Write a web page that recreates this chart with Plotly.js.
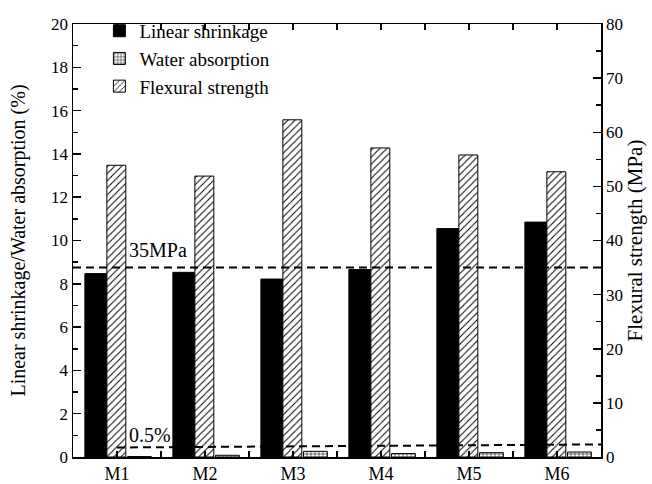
<!DOCTYPE html>
<html>
<head>
<meta charset="utf-8">
<script src="https://cdn.plot.ly/plotly-3.0.1.min.js"></script>
<style>html,body{margin:0;padding:0;background:#fff;}#chart{width:652px;height:484px;}</style>
</head>
<body>
<div id="chart"></div>
<script>
// ---- data ----
const categories = ["M1", "M2", "M3", "M4", "M5", "M6"];
const linearShrinkage = [8.47, 8.53, 8.22, 8.66, 10.55, 10.85];   // %
const waterAbsorption = [0.02, 0.08, 0.26, 0.16, 0.20, 0.23];    // %
const flexuralStrength = [53.9, 51.9, 62.3, 57.1, 55.8, 52.7];   // MPa
const yTicks = [0, 2, 4, 6, 8, 10, 12, 14, 16, 18, 20];
const y2Ticks = [0, 10, 20, 30, 40, 50, 60, 70, 80];
const strengthLimit = 35;   // MPa
const absorptionLimit = 0.5; // %

const xs = categories.map((c, i) => i);
const FONT = "'Liberation Serif', 'Times New Roman', Times, serif";

const traces = [
  {
    type: "bar", name: "Linear shrinkage", x: xs, y: linearShrinkage,
    xaxis: "x", yaxis: "y", offset: -0.365, width: 0.25,
    marker: { color: "#000", line: { color: "#000", width: 1 } }
  },
  {
    type: "bar", name: "Water absorption", x: xs, y: waterAbsorption,
    xaxis: "x", yaxis: "y", offset: 0.12, width: 0.27,
    marker: { color: "#fff", line: { color: "#000", width: 1 },
      pattern: { shape: "+", fgcolor: "#000", bgcolor: "#fff", size: 4, solidity: 0.25 } }
  },
  {
    type: "bar", name: "Flexural strength", x: xs, y: flexuralStrength,
    xaxis: "x", yaxis: "y2", offset: -0.115, width: 0.215,
    marker: { color: "#fff", line: { color: "#000", width: 1 },
      pattern: { shape: "/", fgcolor: "#000", bgcolor: "#fff", size: 5, solidity: 0.2 } }
  }
];

const axisCommon = {
  showline: true, linecolor: "#000", linewidth: 1.5,
  ticks: "inside", ticklen: 8, tickwidth: 1.5, tickcolor: "#000",
  showgrid: false, zeroline: false,
  tickfont: { family: FONT, size: 17, color: "#000" }
};

const layout = {
  width: 652, height: 484,
  margin: { l: 73, r: 51, t: 19, b: 27 },
  paper_bgcolor: "#fff", plot_bgcolor: "#fff",
  font: { family: FONT, color: "#000" },
  barmode: "overlay",
  showlegend: true,
  legend: {
    x: 0.05, y: 1.028, xanchor: "left", yanchor: "top",
    bgcolor: "rgba(0,0,0,0)", borderwidth: 0,
    font: { family: FONT, size: 19, color: "#000" },
    traceorder: "normal", tracegroupgap: 0
  },
  xaxis: Object.assign({}, axisCommon, {
    range: [-0.5, 5.5], tickmode: "array", tickvals: xs, ticktext: categories,
    mirror: "ticks", ticklen: 6,
    tickfont: { family: FONT, size: 18, color: "#000" },
    minor: { dtick: 0.5, tick0: 0.5, ticks: "inside", ticklen: 6, tickwidth: 1.5, tickcolor: "#000" }
  }),
  yaxis: Object.assign({}, axisCommon, {
    range: [0, 20], tickmode: "array", tickvals: yTicks,
    minor: { dtick: 1, ticks: "inside", ticklen: 5, tickwidth: 1.5, tickcolor: "#000" },
    title: { text: "Linear shrinkage/Water absorption (%)", font: { family: FONT, size: 20, color: "#000" }, standoff: 20 }
  }),
  yaxis2: Object.assign({}, axisCommon, {
    overlaying: "y", side: "right", anchor: "x",
    range: [0, 80], tickmode: "array", tickvals: y2Ticks,
    minor: { dtick: 5, ticks: "inside", ticklen: 5, tickwidth: 1.5, tickcolor: "#000" },
    title: { text: "Flexural strength (MPa)", font: { family: FONT, size: 21, color: "#000" }, standoff: 4 }
  }),
  shapes: [
    { type: "line", layer: "above", xref: "paper", x0: 0, x1: 1, yref: "y2", y0: strengthLimit, y1: strengthLimit,
      line: { color: "#000", width: 2, dash: "8px,5px" } },
    { type: "line", layer: "above", xref: "x", x0: 0, x1: 5.5, yref: "y", y0: absorptionLimit - 0.06, y1: absorptionLimit + 0.08,
      line: { color: "#000", width: 2, dash: "8px,5px" } }
  ],
  annotations: [
    { text: "35MPa", xref: "x", yref: "y2", x: 0.465, y: strengthLimit + 3.2, showarrow: false,
      font: { family: FONT, size: 20, color: "#000" } },
    { text: "0.5%", xref: "x", yref: "y", x: 0.37, y: absorptionLimit + 0.5, showarrow: false,
      font: { family: FONT, size: 20, color: "#000" } }
  ]
};

Plotly.newPlot("chart", traces, layout, { displayModeBar: false, staticPlot: true });
</script>
</body>
</html>
